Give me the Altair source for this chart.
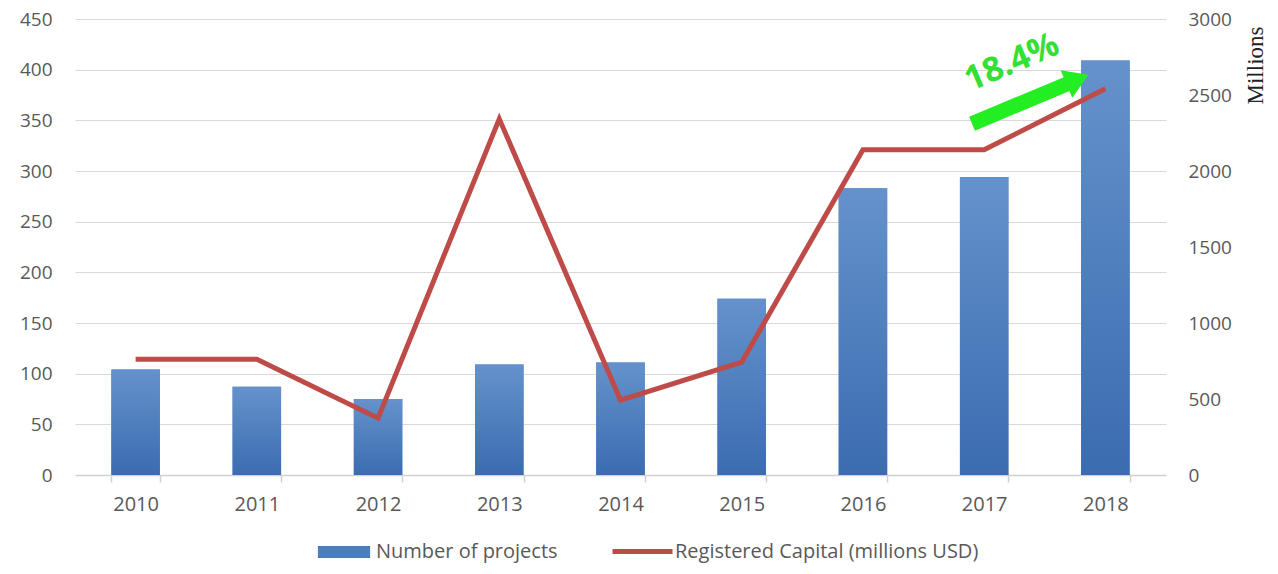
import altair as alt
import pandas as pd

years = ["2010", "2011", "2012", "2013", "2014", "2015", "2016", "2017", "2018"]
projects = [104, 87, 75, 109, 111, 174, 283, 294, 409]
capital = [761, 761, 374, 2343, 492, 742, 2140, 2140, 2541]
left_ticks = [0, 50, 100, 150, 200, 250, 300, 350, 400, 450]
right_ticks = [0, 500, 1000, 1500, 2000, 2500, 3000]

bar_name = "Number of projects"
line_name = "Registered Capital (millions USD)"

# annotation (x in category-index units, y in registered-capital units)
arrow_x = [6.90, 7.72]
arrow_y = [2311, 2585]
head_x = [7.77]
head_y = [2603]
label_x = [7.23]
label_y = [2711]
label_text = ["18.4%"]

df = pd.DataFrame({"year": years, "projects": projects, "capital": capital,
                   "bar_series": bar_name, "line_series": line_name})

FONT = "Open Sans"
GRAY = "#595959"
W, H = 1091, 456
LEG_CY = 533  # legend centre line, relative to plot top

xscale = alt.Scale(type="band", paddingInner=0.6, paddingOuter=0.3)
x_axis = alt.Axis(title=None, labelFont=FONT, labelFontSize=20, labelColor=GRAY,
                  labelPadding=12, ticks=True, tickBand="extent", tickSize=7,
                  tickColor="#d0d0d0", tickWidth=1.5, domainColor="#d0d0d0",
                  domainWidth=1.5, labelAngle=0, grid=False)

left_scale = alt.Scale(domain=[0, 450], nice=False)
right_scale = alt.Scale(domain=[0, 3000], nice=False)

base = alt.Chart(df)

bars_legend = base.mark_bar().encode(
    x=alt.X("year:N", scale=xscale, axis=x_axis, sort=years),
    y=alt.Y("projects:Q", scale=left_scale, axis=None),
    color=alt.Color("bar_series:N",
                    scale=alt.Scale(domain=[bar_name], range=["#4a7ebb"]),
                    legend=alt.Legend(title=None, orient="none", legendX=239,
                                      legendY=LEG_CY - 30,
                                      labelFont=FONT, labelFontSize=20, labelColor=GRAY,
                                      labelLimit=600,
                                      symbolType="M-0.87,-0.2H0.87V0.2H-0.87Z",
                                      symbolSize=3600,
                                      symbolStrokeWidth=0, labelOffset=2, padding=0)),
)

bars = base.mark_bar(
    color=alt.Gradient(gradient="linear", x1=0, x2=0, y1=0, y2=1,
                       stops=[alt.GradientStop(color="#6592cc", offset=0),
                              alt.GradientStop(color="#3b6cb0", offset=1)])
).encode(
    x=alt.X("year:N", scale=xscale, sort=years, axis=x_axis),
    y=alt.Y("projects:Q", scale=left_scale,
            axis=alt.Axis(title=None, values=left_ticks, labelFont=FONT, labelFontSize=19,
                          labelColor=GRAY, labelPadding=23, ticks=False, domain=False,
                          grid=True, gridColor="#d9d9d9", gridWidth=1.2)),
)

line = base.mark_line(strokeWidth=5, strokeJoin="miter").encode(
    x=alt.X("year:N", scale=xscale, sort=years, axis=x_axis),
    y=alt.Y("capital:Q", scale=right_scale,
            axis=alt.Axis(title="Millions", orient="right", values=right_ticks, format="d",
                          labelFont=FONT, labelFontSize=19, labelColor=GRAY,
                          labelPadding=22, ticks=False, domain=False, grid=False,
                          titleFont="Liberation Serif", titleFontSize=23,
                          titleFontWeight="normal", titleColor="#222222",
                          titleAngle=270, titleAnchor="end", titlePadding=36,
                          titleY=7)),
    stroke=alt.Stroke("line_series:N",
                      scale=alt.Scale(domain=[line_name], range=["#be4b48"]),
                      legend=alt.Legend(title=None, orient="none", legendX=535,
                                        legendY=LEG_CY - 33,
                                        labelFont=FONT, labelFontSize=20, labelColor=GRAY,
                                        labelLimit=600,
                                        symbolType="stroke", symbolSize=3600,
                                        symbolStrokeWidth=5, labelOffset=0, padding=0)),
)

main = alt.layer(bars_legend, bars, line).resolve_scale(y="independent")

ax_scale = alt.Scale(domain=[-0.5, 8.5], nice=False, zero=False)
ay_scale = alt.Scale(domain=[0, 3000], nice=False, zero=False)

arrow_df = pd.DataFrame({"x": [arrow_x[0]], "x2": [arrow_x[1]],
                         "y": [arrow_y[0]], "y2": [arrow_y[1]]})
shaft = alt.Chart(arrow_df).mark_rule(color="#22ee22", strokeWidth=15, strokeCap="butt").encode(
    x=alt.X("x:Q", scale=ax_scale, axis=None), x2="x2:Q",
    y=alt.Y("y:Q", scale=ay_scale, axis=None), y2="y2:Q",
)
head_df = pd.DataFrame({"x": head_x, "y": head_y})
head = alt.Chart(head_df).mark_point(
    shape="M-0.8,-1L0.8,0L-0.8,1Z", filled=True, color="#22ee22", opacity=1,
    size=900, angle=337, strokeWidth=0
).encode(
    x=alt.X("x:Q", scale=ax_scale, axis=None),
    y=alt.Y("y:Q", scale=ay_scale, axis=None),
)
label_df = pd.DataFrame({"x": label_x, "y": label_y, "t": label_text})
label = alt.Chart(label_df).mark_text(
    font=FONT, fontSize=34, fontWeight="bold", color="#33e033", angle=337,
    align="center", baseline="middle"
).encode(
    x=alt.X("x:Q", scale=ax_scale, axis=None),
    y=alt.Y("y:Q", scale=ay_scale, axis=None),
    text="t:N",
)

annot = alt.layer(shaft, head, label)

chart = alt.layer(main, annot).resolve_scale(x="independent", y="independent").properties(
    width=W, height=H,
    autosize=alt.AutoSizeParams(type="none"),
    padding={"left": 67, "top": 11, "right": 104, "bottom": 88},
).configure_view(stroke=None)

chart.save("out.html", embed_options={"renderer": "svg", "actions": False})
